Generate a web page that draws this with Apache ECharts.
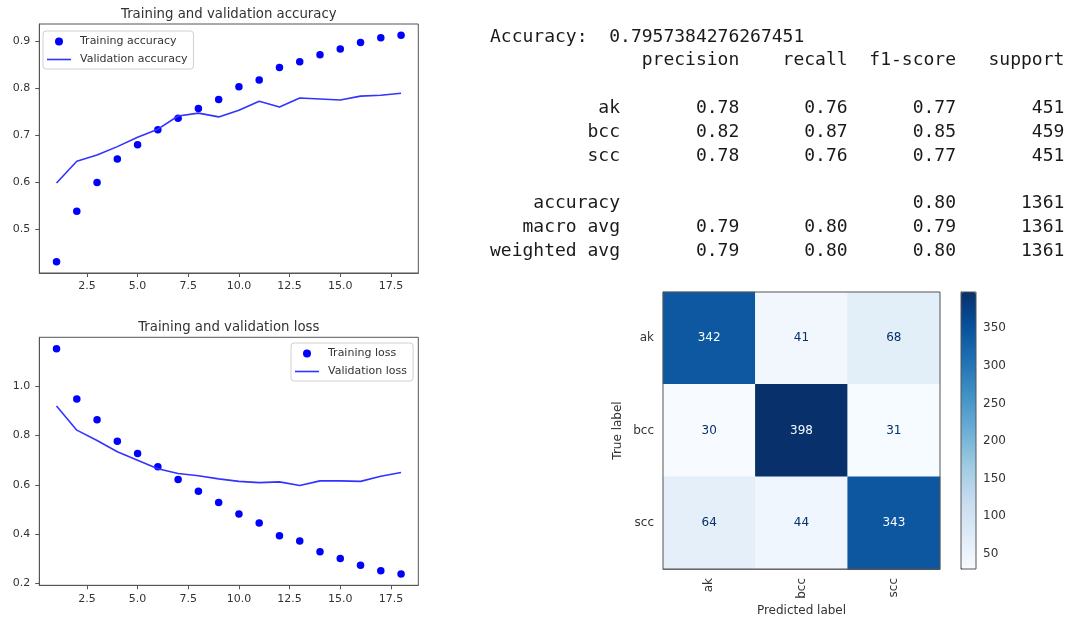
<!DOCTYPE html>
<html>
<head>
<meta charset="utf-8">
<script src="https://cdn.jsdelivr.net/npm/echarts@6/dist/echarts.min.js"></script>
<style>
  html, body { margin: 0; padding: 0; background: #fff; }
  #main { width: 1069px; height: 621px; }
</style>
</head>
<body>
<div id="main"></div>
<script>
// training history
const epochs = [1, 2, 3, 4, 5, 6, 7, 8, 9, 10, 11, 12, 13, 14, 15, 16, 17, 18];
const trainAcc = [0.432, 0.539, 0.600, 0.650, 0.680, 0.712, 0.736, 0.757, 0.776, 0.803, 0.817, 0.844, 0.856, 0.871, 0.883, 0.897, 0.907, 0.912];
const valAcc = [0.599, 0.645, 0.658, 0.676, 0.696, 0.713, 0.741, 0.747, 0.739, 0.753, 0.772, 0.760, 0.779, 0.777, 0.775, 0.783, 0.785, 0.789];
const trainLoss = [1.153, 0.948, 0.864, 0.777, 0.727, 0.673, 0.622, 0.574, 0.528, 0.482, 0.445, 0.393, 0.372, 0.328, 0.301, 0.273, 0.251, 0.238];
const valLoss = [0.920, 0.822, 0.780, 0.734, 0.700, 0.665, 0.646, 0.637, 0.624, 0.614, 0.609, 0.612, 0.597, 0.616, 0.616, 0.614, 0.635, 0.650];

// tick labels
const epochTicks = [2.5, 5, 7.5, 10, 12.5, 15, 17.5];
const accTicks = [0.5, 0.6, 0.7, 0.8, 0.9];
const lossTicks = [0.2, 0.4, 0.6, 0.8, 1.0];
const cbarTicks = [50, 100, 150, 200, 250, 300, 350];

// classification report
const classes = ["ak", "bcc", "scc"];
const accuracyScore = "0.7957384276267451";
const precision = [0.78, 0.82, 0.78];
const recall = [0.76, 0.87, 0.76];
const f1 = [0.77, 0.85, 0.77];
const support = [451, 459, 451];
const accF1 = 0.80;
const totalSupport = 1361;
const macroAvg = [0.79, 0.80, 0.79];
const weightedAvg = [0.79, 0.80, 0.80];

// confusion matrix, rows = true label, cols = predicted label
const cm = [
  [342, 41, 68],
  [30, 398, 31],
  [64, 44, 343]
];

// matplotlib "Blues"
const blues = ["#f7fbff", "#deebf7", "#c6dbef", "#9ecae1", "#6baed6", "#4292c6", "#2171b5", "#08519c", "#08306b"];

const FONT = "DejaVu Sans";
const MONO = "DejaVu Sans Mono";
const axisColor = "#555";
const labelColor = "#333";
const lineIcon = "path://M0,0 L30,0 L30,2 L0,2 Z";

const pairs = (ys) => epochs.map((e, i) => [e, ys[i]]);
const fmt1 = (v) => v.toFixed(1);

// build report lines like sklearn
const pad = (s, n) => String(s).padStart(n);
const row = (name, cols) => pad(name, 12) + " " + cols.map((c) => " " + pad(c, 9)).join("");
const reportLines = [
  "Accuracy:  " + accuracyScore,
  row("", ["precision", "recall", "f1-score", "support"]),
  ""
];
classes.forEach((c, i) => {
  reportLines.push(row(c, [precision[i].toFixed(2), recall[i].toFixed(2), f1[i].toFixed(2), support[i]]));
});
reportLines.push("");
reportLines.push(row("accuracy", ["", "", accF1.toFixed(2), totalSupport]));
reportLines.push(row("macro avg", [macroAvg[0].toFixed(2), macroAvg[1].toFixed(2), macroAvg[2].toFixed(2), totalSupport]));
reportLines.push(row("weighted avg", [weightedAvg[0].toFixed(2), weightedAvg[1].toFixed(2), weightedAvg[2].toFixed(2), totalSupport]));

const reportText = reportLines.map((line, i) => ({
  type: "text",
  x: 490,
  y: 37 + i * 23.8,
  style: {
    text: line,
    font: "18px '" + MONO + "'",
    fill: "#1a1a1a",
    verticalAlign: "middle"
  }
}));

// heatmap data
const cmMin = Math.min(...cm.flat());
const cmMax = Math.max(...cm.flat());
const thresh = (cmMin + cmMax) / 2;
const heatData = [];
cm.forEach((r, i) => {
  r.forEach((v, j) => {
    heatData.push({
      value: [j, i, v],
      label: { color: v > thresh ? blues[0] : blues[8] }
    });
  });
});

function lineAxisX(gridIndex) {
  return {
    type: "value",
    gridIndex: gridIndex,
    min: 0.15,
    max: 18.85,
    splitLine: { show: false },
    axisLine: { lineStyle: { color: axisColor } },
    axisTick: { length: 4, customValues: epochTicks, lineStyle: { color: axisColor } },
    axisLabel: { customValues: epochTicks, formatter: fmt1, color: labelColor, fontSize: 11, fontFamily: FONT, margin: 8 }
  };
}

function lineAxisY(gridIndex, min, max, ticks) {
  return {
    type: "value",
    gridIndex: gridIndex,
    min: min,
    max: max,
    splitLine: { show: false },
    axisLine: { show: true, lineStyle: { color: axisColor } },
    axisTick: { show: true, length: 4, customValues: ticks, lineStyle: { color: axisColor } },
    axisLabel: { customValues: ticks, formatter: fmt1, color: labelColor, fontSize: 11, fontFamily: FONT, margin: 9 }
  };
}

const legendBase = {
  orient: "vertical",
  itemWidth: 24,
  itemHeight: 8,
  itemGap: 7,
  padding: [5, 6, 4, 4],
  borderColor: "#d0d0d0",
  borderWidth: 1,
  borderRadius: 3,
  backgroundColor: "rgba(255,255,255,0.85)",
  textStyle: { fontSize: 11, fontFamily: FONT, color: labelColor, padding: [0, 0, 0, 4] }
};

const option = {
  animation: false,
  backgroundColor: "#fff",
  title: [
    {
      text: "Training and validation accuracy",
      left: 228.8, top: 8, textAlign: "center", padding: 0,
      textStyle: { fontSize: 13.3, fontWeight: "normal", fontFamily: FONT, color: labelColor }
    },
    {
      text: "Training and validation loss",
      left: 228.8, top: 321, textAlign: "center", padding: 0,
      textStyle: { fontSize: 13.3, fontWeight: "normal", fontFamily: FONT, color: labelColor }
    }
  ],
  legend: [
    Object.assign({}, legendBase, {
      left: 43, top: 31,
      data: [{ name: "Training accuracy", icon: "circle" }, { name: "Validation accuracy", icon: lineIcon }]
    }),
    Object.assign({}, legendBase, {
      left: 291, top: 343,
      data: [{ name: "Training loss", icon: "circle" }, { name: "Validation loss", icon: lineIcon }]
    })
  ],
  grid: [
    { left: 39.3, top: 24, width: 379, height: 249, show: true, borderColor: axisColor, outerBoundsMode: "none" },
    { left: 39.3, top: 337.3, width: 379, height: 248, show: true, borderColor: axisColor, outerBoundsMode: "none" },
    { left: 663, top: 292, width: 277, height: 277, show: true, borderColor: axisColor, z: 10, outerBoundsMode: "none" },
    { left: 961, top: 292, width: 15, height: 277, show: true, borderColor: axisColor, z: 10, outerBoundsMode: "none" }
  ],
  xAxis: [
    lineAxisX(0),
    lineAxisX(1),
    {
      type: "category",
      gridIndex: 2,
      data: classes,
      axisLine: { lineStyle: { color: axisColor } },
      axisTick: { alignWithLabel: true, length: 5, lineStyle: { color: axisColor } },
      axisLabel: { rotate: 90, color: labelColor, fontSize: 12, fontFamily: FONT, margin: 9 },
      splitLine: { show: false },
      name: "Predicted label",
      nameLocation: "middle",
      nameGap: 36,
      nameTextStyle: { fontSize: 12, fontFamily: FONT, color: labelColor }
    },
    { type: "value", gridIndex: 3, min: 0, max: 1, show: false }
  ],
  yAxis: [
    lineAxisY(0, 0.408, 0.936, accTicks),
    lineAxisY(1, 0.192, 1.199, lossTicks),
    {
      type: "category",
      gridIndex: 2,
      data: classes,
      inverse: true,
      axisLine: { lineStyle: { color: axisColor } },
      axisTick: { alignWithLabel: true, length: 5, lineStyle: { color: axisColor } },
      axisLabel: { color: labelColor, fontSize: 12, fontFamily: FONT, margin: 9 },
      splitLine: { show: false },
      name: "True label",
      nameLocation: "middle",
      nameRotate: 90,
      nameGap: 39,
      nameTextStyle: { fontSize: 12, fontFamily: FONT, color: labelColor }
    },
    {
      type: "value",
      gridIndex: 3,
      position: "right",
      min: cmMin,
      max: cmMax,
      splitLine: { show: false },
      axisLine: { show: true, lineStyle: { color: axisColor } },
      axisTick: { show: true, length: 4, customValues: cbarTicks, lineStyle: { color: axisColor } },
      axisLabel: { customValues: cbarTicks, color: labelColor, fontSize: 12, fontFamily: FONT, margin: 7 }
    }
  ],
  visualMap: {
    type: "continuous",
    seriesIndex: 4,
    min: cmMin,
    max: cmMax,
    calculable: false,
    hoverLink: false,
    orient: "vertical",
    left: 961,
    top: 292,
    itemWidth: 15,
    itemHeight: 277,
    padding: 0,
    text: null,
    z: 1,
    inRange: { color: blues }
  },
  graphic: reportText,
  series: [
    {
      name: "Training accuracy",
      type: "scatter",
      xAxisIndex: 0, yAxisIndex: 0,
      symbolSize: 7.5,
      itemStyle: { color: "#0000ff", opacity: 1 },
      data: pairs(trainAcc)
    },
    {
      name: "Validation accuracy",
      type: "line",
      xAxisIndex: 0, yAxisIndex: 0,
      showSymbol: false,
      symbol: "none",
      lineStyle: { color: "#3333ff", width: 1.6 },
      itemStyle: { color: "#3333ff" },
      data: pairs(valAcc)
    },
    {
      name: "Training loss",
      type: "scatter",
      xAxisIndex: 1, yAxisIndex: 1,
      symbolSize: 7.5,
      itemStyle: { color: "#0000ff", opacity: 1 },
      data: pairs(trainLoss)
    },
    {
      name: "Validation loss",
      type: "line",
      xAxisIndex: 1, yAxisIndex: 1,
      showSymbol: false,
      symbol: "none",
      lineStyle: { color: "#3333ff", width: 1.6 },
      itemStyle: { color: "#3333ff" },
      data: pairs(valLoss)
    },
    {
      name: "Confusion matrix",
      type: "heatmap",
      xAxisIndex: 2, yAxisIndex: 2,
      label: { show: true, fontSize: 12, fontFamily: FONT },
      data: heatData
    }
  ]
};

const chart = echarts.init(document.getElementById("main"));
chart.setOption(option);
window.addEventListener("resize", () => chart.resize());
</script>
</body>
</html>
